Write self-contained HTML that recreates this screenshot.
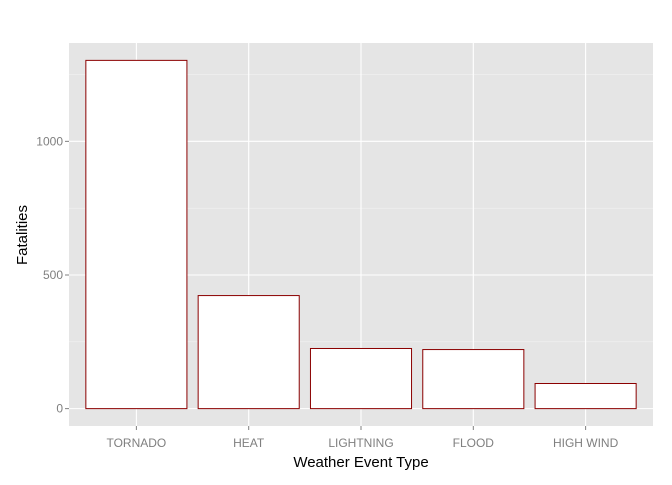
<!DOCTYPE html>
<html><head><meta charset="utf-8"><style>
body{margin:0;background:#fff;}
svg text{font-family:"Liberation Sans",Arial,sans-serif;}
</style></head><body>
<svg id="chart" width="672" height="480">
<rect x="69" y="43" width="584" height="383" fill="#e5e5e5"/>
<g id="grid"></g><g id="bars"></g><g id="axes"></g>
<text x="361" y="467" font-size="15" text-anchor="middle" fill="#000">Weather Event Type</text>
<text transform="translate(27,235) rotate(-90)" font-size="15" text-anchor="middle" fill="#000">Fatalities</text>
</svg>
<script>
const categories=["TORNADO","HEAT","LIGHTNING","FLOOD","HIGH WIND"];
const fatalities=[1303,423,225,221,94];
const yTicks=[0,500,1000];
const yMinor=[250,750,1250];
const NS="http://www.w3.org/2000/svg";
const px0=69,px1=653,py0=426,py1=43;
const ymin=-65,ymax=1368;
function y(v){return py0-(v-ymin)/(ymax-ymin)*(py0-py1);}
const step=(px1-px0)/(categories.length+0.2);
function x(i){return px0+(i+0.6)*step;}
function mk(t,a,p){const e=document.createElementNS(NS,t);for(const k in a)e.setAttribute(k,a[k]);p.appendChild(e);return e;}
const grid=document.getElementById('grid'),bars=document.getElementById('bars'),axes=document.getElementById('axes');
yMinor.forEach(v=>{const l=mk('line',{x1:px0,x2:px1,y1:y(v),y2:y(v),stroke:'#f2f2f2','stroke-width':0.6},grid);

});
yTicks.forEach(v=>{const l=mk('line',{x1:px0,x2:px1,y1:y(v),y2:y(v),stroke:'#fff','stroke-width':1.1},grid);


const tk=mk('line',{x1:px0-4,x2:px0,y1:y(v),y2:y(v),stroke:'#7f7f7f'},axes);


const t=mk('text',{x:px0-6,y:y(v)+4,'font-size':12,'text-anchor':'end',fill:'#7f7f7f'},axes);t.textContent=v;

});
categories.forEach((c,i)=>{const cx=x(i);
const g=mk('line',{x1:cx,x2:cx,y1:py1,y2:py0,stroke:'#fff','stroke-width':1.1},grid);


const w=step*0.9;
const b=mk('rect',{x:cx-w/2,y:y(fatalities[i]),width:w,height:y(0)-y(fatalities[i]),fill:'#fff',stroke:'#8b0000','stroke-width':1},bars);


const tk=mk('line',{x1:cx,x2:cx,y1:py0,y2:py0+4,stroke:'#7f7f7f'},axes);


const t=mk('text',{x:cx,y:py0+21,'font-size':12,'text-anchor':'middle',fill:'#7f7f7f'},axes);t.textContent=c;

});
</script>
</body></html>
